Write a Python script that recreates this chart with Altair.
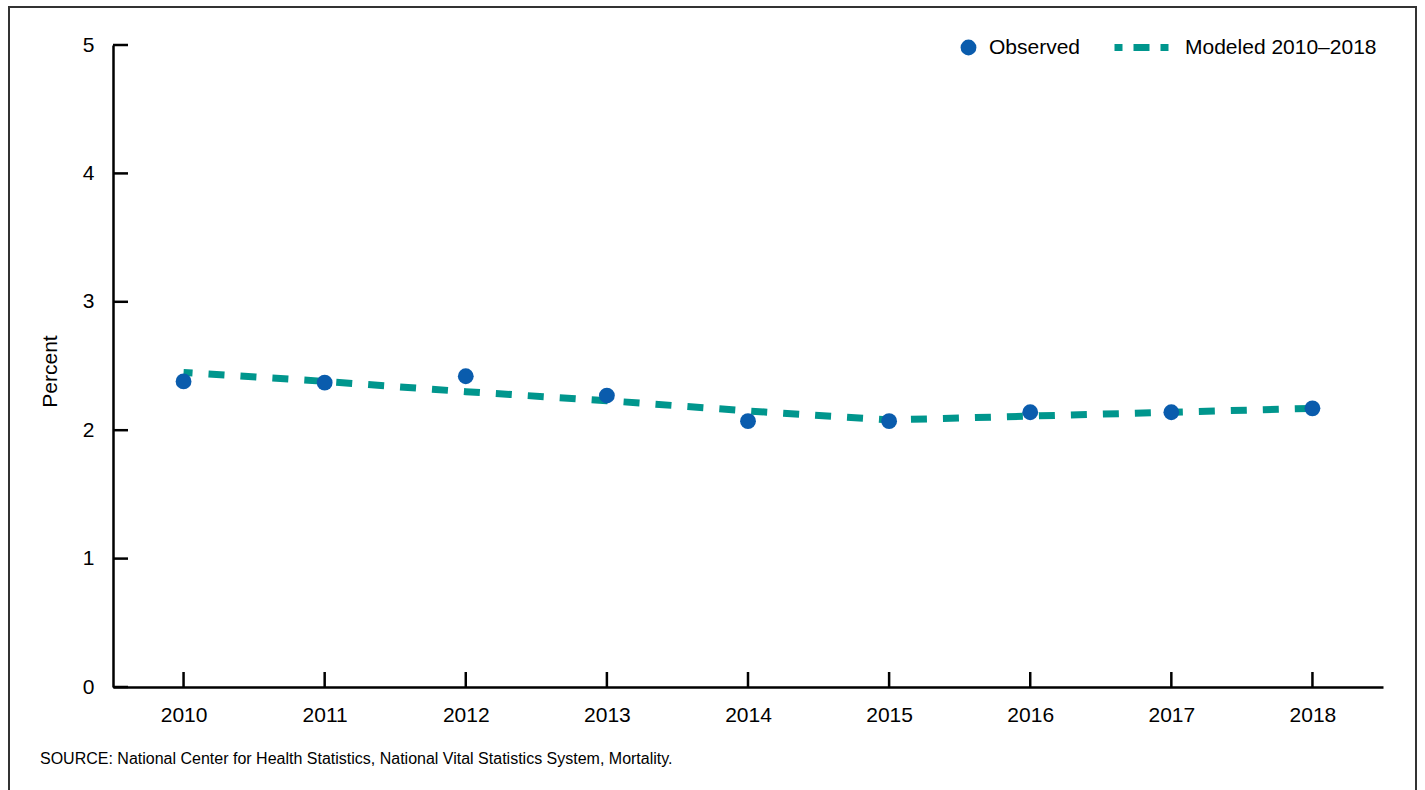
import altair as alt
import pandas as pd

# Values
years = [2010, 2011, 2012, 2013, 2014, 2015, 2016, 2017, 2018]
observed = [2.38, 2.37, 2.42, 2.27, 2.07, 2.07, 2.14, 2.14, 2.17]
modeled = [2.45, 2.38, 2.30, 2.23, 2.15, 2.08, 2.11, 2.14, 2.17]
y_ticks = [0, 1, 2, 3, 4, 5]

OBS_LABEL = "Observed"
MOD_LABEL = "Modeled 2010\u20132018"
SOURCE = "SOURCE: National Center for Health Statistics, National Vital Statistics System, Mortality."

BLUE = "#0a5cad"
TEAL = "#00968d"
FONT = "Liberation Sans"
FS = 21

W, H = 1270, 642

obs_df = pd.DataFrame({"year": years, "value": observed, "series": OBS_LABEL})
mod_df = pd.DataFrame({"year": years, "value": modeled, "series2": MOD_LABEL})
ytick_df = pd.DataFrame({"tick": y_ticks})
xtick_df = pd.DataFrame({"year": years})
one_row = pd.DataFrame({"f": [0]})
source_df = pd.DataFrame({"label": [SOURCE]})

x_enc = alt.X(
    "year:O",
    scale=alt.Scale(type="point", padding=0.5),
    axis=alt.Axis(
        title=None, labelAngle=0, tickSize=0, labelPadding=17,
        labelFontSize=FS, labelFont=FONT, labelColor="black",
        domainColor="black", domainWidth=2.5,
    ),
)
y_enc = alt.Y(
    "value:Q",
    scale=alt.Scale(domain=[0, 5], nice=False, zero=True),
    axis=alt.Axis(
        title="Percent", values=y_ticks, format="d", tickSize=0, labelPadding=19,
        labelFontSize=FS, labelFont=FONT, labelColor="black",
        titleFontSize=FS, titleFont=FONT, titleFontWeight="normal",
        titleColor="black", titlePadding=22, titleY=326,
        domainColor="black", domainWidth=2.5, grid=False,
    ),
)

# outer frame around the figure
frame = alt.Chart(one_row).mark_rect(
    fill="white", fillOpacity=0, stroke="#333333", strokeWidth=2
).encode(
    x=alt.value(-104), x2=alt.value(1303), y=alt.value(-38), y2=alt.value(780)
)

# inward tick marks
x_ticks = alt.Chart(xtick_df).mark_rule(color="black", strokeWidth=2.5).encode(
    x=alt.X("year:O"), y=alt.value(H), y2=alt.value(H - 15)
)
y_tick_rules = alt.Chart(ytick_df).mark_rule(color="black", strokeWidth=2.5).encode(
    y=alt.Y("tick:Q"), x=alt.value(0), x2=alt.value(15)
)

# modeled trend, dashed
line = alt.Chart(mod_df).mark_line(
    color=TEAL, strokeWidth=7, strokeDash=[16, 16], strokeDashOffset=7
).encode(x=x_enc, y=y_enc)

# legend entry for the modeled trend (draws no line itself)
line_key = alt.Chart(mod_df).transform_filter("false").mark_line(
    color=TEAL, strokeWidth=7
).encode(
    x=alt.X("year:O"),
    y=alt.Y("value:Q"),
    strokeDash=alt.StrokeDash(
        "series2:N",
        scale=alt.Scale(domain=[MOD_LABEL], range=[[8, 11, 16, 11, 8, 40]]),
        legend=alt.Legend(
            orient="none", legendX=998, legendY=-28, title=None,
            direction="horizontal", padding=0, labelLimit=0,
            symbolType="stroke", symbolStrokeColor=TEAL, symbolStrokeWidth=7,
            symbolSize=2916,
            labelFontSize=FS, labelFont=FONT, labelColor="black", labelOffset=13,
        ),
    ),
)

points = alt.Chart(obs_df).mark_circle(size=250, opacity=1).encode(
    x=alt.X("year:O"),
    y=alt.Y("value:Q"),
    color=alt.Color(
        "series:N",
        scale=alt.Scale(domain=[OBS_LABEL], range=[BLUE]),
        legend=alt.Legend(
            orient="none", legendX=845, legendY=-8, title=None,
            direction="horizontal", padding=0, labelLimit=0,
            symbolType="circle", symbolSize=250, symbolOpacity=1,
            labelFontSize=FS, labelFont=FONT, labelColor="black", labelOffset=10,
        ),
    ),
)

# source note under the axis
source = alt.Chart(source_df).mark_text(
    align="left", baseline="middle", fontSize=16, font=FONT, color="black"
).encode(x=alt.value(-73), y=alt.value(714), text="label:N")

chart = alt.layer(frame, line, line_key, x_ticks, y_tick_rules, points, source).properties(
    width=W,
    height=H,
    autosize=alt.AutoSizeParams(type="none"),
    padding={"left": 113, "top": 45, "right": 42, "bottom": 103},
    view=alt.ViewBackground(stroke="transparent", fill="transparent"),
).configure_view(stroke="transparent").configure(background="white")

chart.save("out.html", embed_options={"renderer": "svg", "actions": False})
